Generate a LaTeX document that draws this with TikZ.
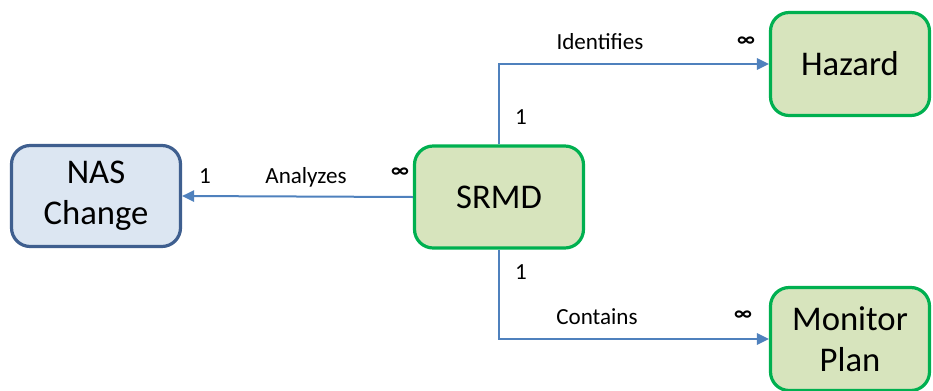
\documentclass[tikz,border=0pt]{standalone}
\usepackage{fontspec}
\setmainfont{Carlito}
\usetikzlibrary{arrows.meta}
\definecolor{boxgreen}{HTML}{00B050}
\definecolor{fillgreen}{HTML}{D7E4BD}
\definecolor{boxblue}{HTML}{3F5F8F}
\definecolor{fillblue}{HTML}{DCE6F2}
\definecolor{linkblue}{HTML}{4F81BD}
\tikzset{
  entity/.style={rounded corners=14pt, line width=2.4pt, align=center,
    font=\fontsize{26}{30.5}\selectfont, inner sep=0pt},
  greenbox/.style={entity, draw=boxgreen, fill=fillgreen},
  bluebox/.style={entity, draw=boxblue, fill=fillblue},
  link/.style={draw=linkblue, line width=1.5pt,
    -{Triangle[length=9pt,width=8.5pt]}},
  lbl/.style={font=\fontsize{17.3}{20}\selectfont, inner sep=0pt},
  mult/.style={font=\fontsize{16}{20}\selectfont\bfseries, inner sep=0pt}
}
\begin{document}
\begin{tikzpicture}[x=0.75pt,y=-0.75pt]
  \useasboundingbox (0,0) rectangle (933,390);
  \clip (0,0) rectangle (933,390);

  % entities
  \node[bluebox, minimum width=169pt*0.75, minimum height=101pt*0.75] (nas) at (96,196) {NAS\\Change};
  \node[greenbox, minimum width=169pt*0.75, minimum height=102pt*0.75] (srmd) at (499,197) {SRMD};
  \node[greenbox, minimum width=159pt*0.75, minimum height=103pt*0.75] (haz) at (850,64) {Hazard};
  \node[greenbox, minimum width=159pt*0.75, minimum height=103pt*0.75] (mon) at (850,339) {Monitor\\Plan};

  % relations
  \draw[link] (srmd.west) -- (nas.east);
  \draw[link] (srmd.north) |- (haz.west);
  \draw[link] (srmd.south) |- (mon.west);

  % relation names
  \node[lbl] (analyzes) at (306,177) {Analyzes};
  \node[lbl] (identifies) at (600,42) {Identifies};
  \node[lbl] (contains) at (597,317) {Contains};

  % multiplicities
  \node[lbl] (m1) at (205,176) {1};
  \node[mult] (m2) at (400,173) {∞};
  \node[lbl] (m3) at (521,117) {1};
  \node[mult] (m4) at (746,42) {∞};
  \node[lbl] (m5) at (521,272) {1};
  \node[mult] (m6) at (743,316) {∞};
\end{tikzpicture}
\end{document}
